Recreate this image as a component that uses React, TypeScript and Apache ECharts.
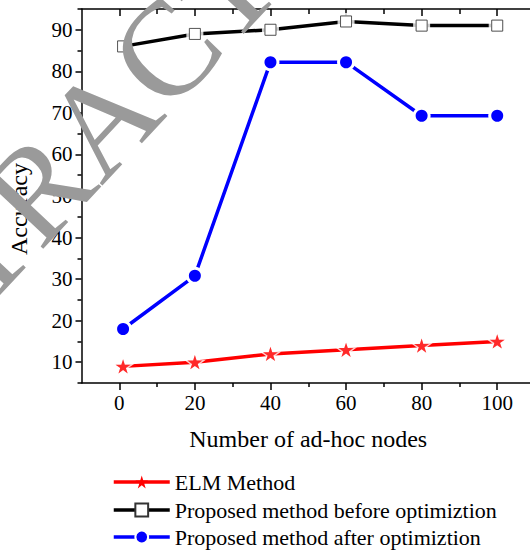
import React, { useEffect, useRef } from "react";
import * as echarts from "echarts";

const nodes = [1, 20, 40, 60, 80, 100];
const elmValues = [9, 10, 12, 13, 14, 15];
const beforeValues = [86, 89, 90, 92, 91, 91];
const afterValues = [18, 30.8, 82.2, 82.2, 69.3, 69.3];

const xMajor = [0, 20, 40, 60, 80, 100];
const xMinor = [10, 30, 50, 70, 90];
const yMajor = [10, 20, 30, 40, 50, 60, 70, 80, 90];
const yMinor = [5, 15, 25, 35, 45, 55, 65, 75, 85, 95];

const seriesNames = [
  "ELM Method",
  "Proposed method before optimiztion",
  "Proposed method after optimiztion",
];

const STAR =
  "path://M50 0L61.2 34.6L97.6 34.5L68.1 55.9L79.4 90.5L50 69L20.6 90.5L31.9 55.9L2.4 34.5L38.8 34.6Z";

const FONT = "'Liberation Serif', 'Times New Roman', serif";

export default function App() {
  const ref = useRef<HTMLDivElement>(null);
  useEffect(() => {
    document.body.style.margin = "0";
    document.body.style.overflow = "hidden";
    if (!ref.current) return;
    const chart = echarts.init(ref.current, null, { renderer: "svg" });
    const pairs = (vals: number[]) => nodes.map((x, i) => [x, vals[i]]);
    const axisLine = { show: true, onZero: false, lineStyle: { color: "#000", width: 1.5 } };
    const noLine = { show: false, onZero: false };
    const tickStyle = { color: "#000", width: 1.5 };
    const grid = { left: 81.5, top: 9, right: -5, bottom: 168, outerBoundsMode: "none" };
    const baseX = { type: "value", min: -10, max: 110, splitLine: { show: false } };
    const baseY = { type: "value", min: 5, max: 95, splitLine: { show: false } };
    const legendBase = {
      orient: "vertical",
      left: 107,
      itemWidth: 56,
      itemHeight: 16,
      textStyle: { fontSize: 22, fontFamily: FONT, color: "#000" },
      lineStyle: { width: 3.5 },
    };

    chart.setOption({
      animation: false,
      grid,
      graphic: [
        {
          type: "text",
          x: 104,
          y: 117,
          rotation: 0.82,
          z: 100,
          silent: true,
          style: {
            text: "RETRACTED",
            fontSize: 135,
            fontFamily: FONT,
            fill: "#9a9a9a",
            align: "center",
            verticalAlign: "middle",
          },
        },
      ],
      legend: [
        { ...legendBase, top: 466, data: [seriesNames[0]] },
        { ...legendBase, top: 494, data: [seriesNames[1]] },
        { ...legendBase, top: 521, data: [seriesNames[2]] },
      ],
      xAxis: [
        {
          ...baseX,
          position: "bottom",
          axisLine,
          axisTick: { show: true, length: 7, lineStyle: tickStyle, customValues: xMajor },
          axisLabel: {
            customValues: xMajor,
            fontSize: 21,
            fontFamily: FONT,
            color: "#000",
            margin: 9,
          },
          name: "Number of ad-hoc nodes",
          nameLocation: "middle",
          nameGap: 44,
          nameTextStyle: { fontSize: 24, fontFamily: FONT, color: "#000" },
        },
        {
          ...baseX,
          position: "bottom",
          axisLine: noLine,
          axisTick: { show: true, length: 4, lineStyle: tickStyle, customValues: xMinor },
          axisLabel: { show: false },
        },
        {
          ...baseX,
          position: "top",
          axisLine,
          axisTick: { show: true, inside: true, length: 7, lineStyle: tickStyle, customValues: xMajor },
          axisLabel: { show: false },
        },
        {
          ...baseX,
          position: "top",
          axisLine: noLine,
          axisTick: { show: true, inside: true, length: 5, lineStyle: tickStyle, customValues: xMinor },
          axisLabel: { show: false },
        },
      ],
      yAxis: [
        {
          ...baseY,
          position: "left",
          axisLine,
          axisTick: { show: true, length: 6, lineStyle: tickStyle, customValues: yMajor },
          axisLabel: {
            customValues: yMajor,
            fontSize: 21,
            fontFamily: FONT,
            color: "#000",
            margin: 9,
          },
          name: "Accuracy",
          nameLocation: "middle",
          nameGap: 51,
          nameTextStyle: { fontSize: 24, fontFamily: FONT, color: "#000", padding: [0, 26, 0, 0] },
        },
        {
          ...baseY,
          position: "left",
          axisLine: noLine,
          axisTick: { show: true, length: 4, lineStyle: tickStyle, customValues: yMinor },
          axisLabel: { show: false },
        },
      ],
      series: [
        {
          name: seriesNames[0],
          type: "line",
          data: pairs(elmValues),
          symbol: STAR,
          symbolSize: 15,
          symbolKeepAspect: true,
          lineStyle: { color: "#ff0000", width: 3.5 },
          itemStyle: { color: "#ff0000" },
          z: 2,
        },
        {
          name: "starHalo",
          type: "scatter",
          data: pairs(elmValues),
          symbol: STAR,
          symbolSize: 22,
          symbolKeepAspect: true,
          itemStyle: { color: "#fff" },
          silent: true,
          z: 3,
        },
        {
          name: "stars",
          type: "scatter",
          data: pairs(elmValues),
          symbol: STAR,
          symbolSize: 15,
          symbolKeepAspect: true,
          itemStyle: { color: "#ff0000" },
          silent: true,
          z: 4,
        },
        {
          name: seriesNames[1],
          type: "line",
          data: pairs(beforeValues),
          symbol: "rect",
          symbolSize: 11,
          lineStyle: { color: "#000", width: 3.5 },
          itemStyle: { color: "#fff", borderColor: "#333", borderWidth: 1 },
          z: 2,
        },
        {
          name: "squareHalo",
          type: "scatter",
          data: pairs(beforeValues),
          symbol: "rect",
          symbolSize: 17,
          itemStyle: { color: "#fff" },
          silent: true,
          z: 3,
        },
        {
          name: "squares",
          type: "scatter",
          data: pairs(beforeValues),
          symbol: "rect",
          symbolSize: 11,
          itemStyle: { color: "#fff", borderColor: "#333", borderWidth: 1 },
          silent: true,
          z: 4,
        },
        {
          name: seriesNames[2],
          type: "line",
          data: pairs(afterValues),
          symbol: "circle",
          symbolSize: 15,
          lineStyle: { color: "#0000ff", width: 3.5 },
          itemStyle: { color: "#0000ff", borderColor: "#fff", borderWidth: 3 },
          z: 2,
        },
      ],
    });
    return () => chart.dispose();
  }, []);
  return <div ref={ref} style={{ width: 530, height: 551 }} />;
}
